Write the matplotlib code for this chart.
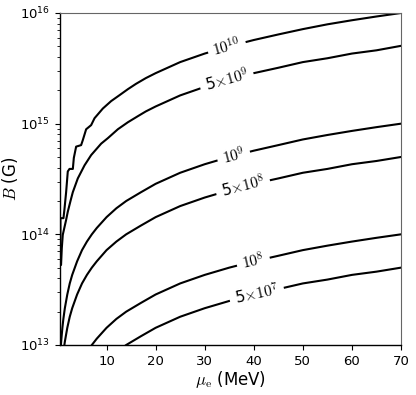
import numpy as np
import matplotlib
matplotlib.use("Agg")
import matplotlib.pyplot as plt

plt.rcParams['mathtext.fontset'] = 'cm'
plt.rcParams['font.family'] = ['DejaVu Sans']

# contour levels and their labels
levels = [5e7, 1e8, 5e8, 1e9, 5e9, 1e10]
level_labels = [r'5$\times10^{7}$', r'$10^{8}$', r'5$\times10^{8}$',
                r'$10^{9}$', r'5$\times10^{9}$', r'$10^{10}$']
# mu_e where each label sits (MeV)
label_mu = [40.6, 39.9, 37.8, 35.9, 34.5, 34.5]

# shared mu_e grid (MeV) for the four smooth lower curves
mu_grid = [0.6, 0.7, 0.8, 1, 1.2, 1.5, 2, 2.5, 3, 4, 5, 6, 7, 8, 10, 12, 14,
           17, 20, 25, 30, 35, 40, 45, 50, 55, 60, 65, 70]
# B in units of 1e13 G
b_5e7 = [0.043, 0.05, 0.057, 0.072, 0.086, 0.107, 0.143, 0.18, 0.215, 0.286,
         0.36, 0.43, 0.5, 0.57, 0.72, 0.86, 1.0, 1.2, 1.43, 1.8, 2.15, 2.5,
         2.86, 3.2, 3.6, 3.9, 4.3, 4.6, 5.0]
b_1e8 = [0.086, 0.1, 0.114, 0.143, 0.172, 0.215, 0.286, 0.36, 0.43, 0.57,
         0.72, 0.86, 1.0, 1.14, 1.43, 1.72, 2.0, 2.4, 2.86, 3.6, 4.3, 5.0,
         5.7, 6.4, 7.2, 7.9, 8.6, 9.3, 10]
b_5e8 = [0.43, 0.5, 0.57, 0.72, 0.86, 1.07, 1.43, 1.8, 2.15, 2.86, 3.6, 4.3,
         5.0, 5.7, 7.2, 8.6, 10, 12, 14.3, 18, 21.5, 25, 28.6, 32, 36, 39,
         43, 46, 50]
b_1e9 = [0.86, 1.0, 1.14, 1.43, 1.72, 2.15, 2.86, 3.6, 4.3, 5.7, 7.2, 8.6,
         10, 11.4, 14.3, 17.2, 20, 24, 28.6, 36, 43, 50, 57, 64, 72, 79, 86,
         93, 100]

# the two upper curves are jagged at low mu_e, read point by point
mu_5e9 = [0.6, 0.73, 0.88, 1.08, 1.76, 2.10, 2.65, 3.12, 4.14, 5.51, 6.86,
          8.9, 10.27, 12.3, 14.35, 16.4, 18, 20, 25, 30, 35, 40, 45, 50, 55,
          60, 65, 70]
b_5e9 = [5.3, 5.3, 7.5, 9.9, 13.5, 16, 20, 24, 32, 42, 52, 66, 74, 89, 103,
         117, 129, 143, 180, 215, 250, 286, 320, 360, 390, 430, 460, 505]
mu_1e10 = [0.6, 0.6, 1.22, 1.43, 1.76, 2.10, 2.45, 3.13, 3.33, 3.80, 4.82,
           5.16, 5.84, 6.86, 7.55, 9.24, 10.94, 12.65, 14.35, 16.0, 18, 20,
           25, 30, 35, 40, 45, 50, 55, 60, 65, 70]
b_1e10 = [5.3, 14, 14, 17, 24, 37, 39, 39, 49, 62, 64, 71, 89, 97, 112, 137,
          160, 181, 205, 229, 258, 286, 360, 430, 500, 570, 640, 715, 790,
          860, 930, 1000]

curves = [(mu_grid, b_5e7), (mu_grid, b_1e8), (mu_grid, b_5e8),
          (mu_grid, b_1e9), (mu_5e9, b_5e9), (mu_1e10, b_1e10)]

fig = plt.figure(figsize=(4.16, 3.95), dpi=100)
ax = fig.add_axes([0.1442, 0.1266, 0.8198, 0.8405])
ax.set_yscale('log')
ax.set_xlim(0.511, 70)
ax.set_ylim(1e13, 1e16)

for (mu, b) in curves:
    ax.plot(mu, np.array(b) * 1e13, color='black', lw=1.5, zorder=2)

# inline labels: white box breaks the line, rotated to follow it
for (mu, b), lab, lm in zip(curves, level_labels, label_mu):
    logb = np.log10(np.array(b) * 1e13)
    yb = 10 ** np.interp(lm, mu, logb)
    y2 = 10 ** np.interp(lm + 1.0, mu, logb)
    p1 = ax.transData.transform((lm, yb))
    p2 = ax.transData.transform((lm + 1.0, y2))
    ang = np.degrees(np.arctan2(p2[1] - p1[1], p2[0] - p1[0]))
    ax.text(lm, yb, lab, fontsize=11, rotation=ang, rotation_mode='anchor',
            ha='center', va='center', zorder=3,
            bbox=dict(boxstyle='square,pad=0.35', fc='white', ec='none'))

ax.set_xticks([10, 20, 30, 40, 50, 60, 70])
ax.tick_params(axis='both', which='both', direction='out', top=False,
               right=False, labelsize=9.5)
ax.tick_params(axis='y', which='minor', length=2)
for s in ['top', 'right']:
    ax.spines[s].set_color('0.4')
    ax.spines[s].set_linewidth(0.8)
for s in ['left', 'bottom']:
    ax.spines[s].set_color('black')
    ax.spines[s].set_linewidth(1.0)

ax.set_xlabel(r'$\mu_{\rm e}$ (MeV)', fontsize=12)
ax.set_ylabel(r'$B$ (G)', fontsize=12)
ax.xaxis.set_label_coords(0.5, -0.072)
ax.yaxis.set_label_coords(-0.118, 0.5)

fig.savefig('out.png', dpi=100)
